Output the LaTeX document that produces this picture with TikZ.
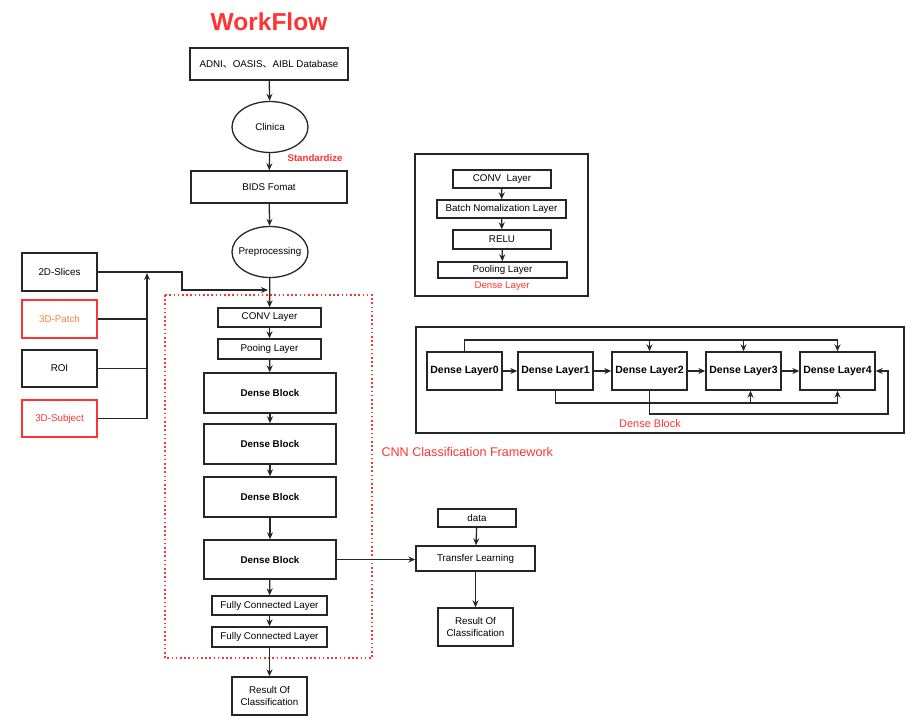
\documentclass[tikz,border=0pt]{standalone}
\usepackage{fontspec}
\setmainfont{Liberation Sans}
\newfontfamily\cjk{Noto Sans CJK SC}
\usetikzlibrary{arrows.meta, shapes.geometric, positioning}

\definecolor{wfred}{HTML}{FF3333}
\definecolor{patchtext}{HTML}{FF8033}

\tikzset{
  box/.style={draw=black!85, line width=1.4pt, fill=white, align=center, inner sep=0pt,
    font=\fontsize{9.8}{12}\selectfont},
  boldbox/.style={box, font=\fontsize{9.8}{12}\selectfont\bfseries},
  layerbox/.style={box, minimum width=75pt, minimum height=38pt, font=\fontsize{10.5}{12}\selectfont\bfseries},
  oval/.style={ellipse, draw=black!85, line width=1.3pt, inner ysep=0pt, inner xsep=-4.5pt,
    minimum width=76pt, minimum height=51pt, font=\fontsize{9.8}{12}\selectfont},
  arr/.style={-{Stealth[length=7pt,width=6pt]}, line width=1.3pt, black!85},
  wire/.style={line width=1.3pt, black!85},
}

\begin{document}
\begin{tikzpicture}[x=1pt, y=-1pt]
\useasboundingbox (0,0) rectangle (918,720);

\node[text=wfred, font=\fontsize{24.5}{26}\selectfont\bfseries] (title) at (269,22) {WorkFlow};

% main column
\node[box, minimum width=158pt, minimum height=32pt] (database) at (269,64) {ADNI{\cjk 、}OASIS{\cjk 、}AIBL Database};
\node[oval] (clinica) at (270,127) {Clinica};
\node[box, minimum width=156pt, minimum height=32pt] (bids) at (269,187) {BIDS Fomat};
\node[oval] (prep) at (270,252) {Preprocessing};
\node[text=wfred, anchor=west, font=\fontsize{9.7}{12}\selectfont\bfseries] (standard) at (284,158) {Standardize};

% inputs
\node[box, minimum width=75pt, minimum height=38pt] (slices) at (59.5,272) {2D-Slices};
\node[box, draw=wfred, text=patchtext, minimum width=75pt, minimum height=38pt] (patch) at (59.5,319) {3D-Patch};
\node[box, minimum width=75pt, minimum height=37pt] (roi) at (59.5,368.5) {ROI};
\node[box, draw=wfred, text=wfred, minimum width=75pt, minimum height=37pt] (subject) at (59.5,418.5) {3D-Subject};

% cnn framework
\draw[wfred, line width=1.6pt, dash pattern=on 1.6pt off 2.6pt] (165,295) rectangle (372,658);
\node[text=wfred, anchor=west, font=\fontsize{12.6}{14}\selectfont] (cnnlabel) at (378,452) {CNN Classification Framework};

\node[box, minimum width=103pt, minimum height=19pt] (conv) at (269.5,317.5) {CONV Layer};
\node[box, minimum width=103pt, minimum height=20pt] (pool) at (269.5,349) {Pooing Layer};
\node[boldbox, minimum width=132pt, minimum height=40pt] (block1) at (270,393) {Dense Block};
\node[boldbox, minimum width=132pt, minimum height=40pt] (block2) at (270,444) {Dense Block};
\node[boldbox, minimum width=132pt, minimum height=40pt] (block3) at (270,497) {Dense Block};
\node[boldbox, minimum width=132pt, minimum height=39pt] (block4) at (270,559.5) {Dense Block};
\node[box, minimum width=115pt, minimum height=19pt] (fc1) at (269.5,605.5) {Fully Connected Layer};
\node[box, minimum width=115pt, minimum height=20pt] (fc2) at (269.5,637) {Fully Connected Layer};
\node[box, minimum width=75pt, minimum height=38pt] (result) at (269.5,696) {Result Of\\Classification};

% transfer learning
\node[box, minimum width=78pt, minimum height=18pt] (data) at (477,518) {data};
\node[box, minimum width=119pt, minimum height=25pt] (transfer) at (475.5,558.5) {Transfer Learning};
\node[box, minimum width=75pt, minimum height=38pt] (result2) at (475.5,627) {Result Of\\Classification};

% dense layer panel
\draw[black!85, line width=1.4pt] (415,154) rectangle (588,296);
\node[box, minimum width=98pt, minimum height=18pt] (dconv) at (502,179) {CONV\ \ Layer};
\node[box, minimum width=129pt, minimum height=18pt] (dbn) at (501.5,209) {Batch Nomalization Layer};
\node[box, minimum width=98pt, minimum height=19pt] (drelu) at (502,239.5) {RELU};
\node[box, minimum width=129pt, minimum height=16pt] (dpool) at (502.5,270) {Pooling Layer};
\node[text=wfred, font=\fontsize{9.7}{12}\selectfont] (dlayerlabel) at (502,286) {Dense Layer};

% dense block panel
\draw[black!85, line width=1.4pt] (416,327) rectangle (904,433);
\node[layerbox] (layer0) at (464.5,371) {Dense Layer0};
\node[layerbox] (layer1) at (555.5,371) {Dense Layer1};
\node[layerbox] (layer2) at (649.5,371) {Dense Layer2};
\node[layerbox] (layer3) at (743.5,371) {Dense Layer3};
\node[layerbox] (layer4) at (837.5,371) {Dense Layer4};
\node[text=wfred, font=\fontsize{11}{12}\selectfont] (dblocklabel) at (650,424) {Dense Block};

% connectors
\draw[arr] (database) -- (clinica);
\draw[arr] (clinica) -- (bids);
\draw[arr] (bids) -- (prep);
\draw[arr] (prep) -- (conv);
\draw[arr] (conv) -- (pool);
\draw[arr] (pool) -- (block1);
\draw[arr] (block1) -- (block2);
\draw[arr] (block2) -- (block3);
\draw[arr] (block3) -- (block4);
\draw[arr] (block4) -- (fc1);
\draw[arr] (fc1) -- (fc2);
\draw[arr] (fc2) -- (result);

\coordinate (bend) at (182,290);
\draw[arr, shorten >=2pt] (slices.east) -| (bend) -- (prep.south |- bend);
\coordinate (bustop) at (147,273);
\draw[arr] (subject.east) -| (bustop);
\draw[wire] (patch.east) -- (patch.east -| bustop);
\draw[wire] (roi.east) -- (roi.east -| bustop);

\draw[arr] (block4.east) -- (block4.east -| transfer.west);
\draw[arr] (data) -- (transfer);
\draw[arr] (transfer) -- (result2);

\draw[arr] (dconv) -- (dbn);
\draw[arr] (dbn) -- (drelu);
\draw[arr] (drelu) -- (dpool);

\draw[arr] (layer0) -- (layer1);
\draw[arr] (layer1) -- (layer2);
\draw[arr] (layer2) -- (layer3);
\draw[arr] (layer3) -- (layer4);

\coordinate (topbus) at (464.5,340);
\draw[arr] (layer0.north) -- (topbus) -| (layer4.north);
\draw[arr] (topbus -| layer2.north) -- (layer2.north);
\draw[arr] (topbus -| layer3.north) -- (layer3.north);

\coordinate (lowbus) at (555.5,403);
\coordinate (layer3in) at ([xshift=7pt]layer3.south);
\draw[arr] (layer1.south) -- (lowbus) -| (layer4.south);
\draw[arr] (lowbus -| layer3in) -- (layer3in);

\coordinate (loopback) at (888,414);
\draw[arr] (layer2.south) |- (loopback) |- (layer4.east);

\end{tikzpicture}
\end{document}
